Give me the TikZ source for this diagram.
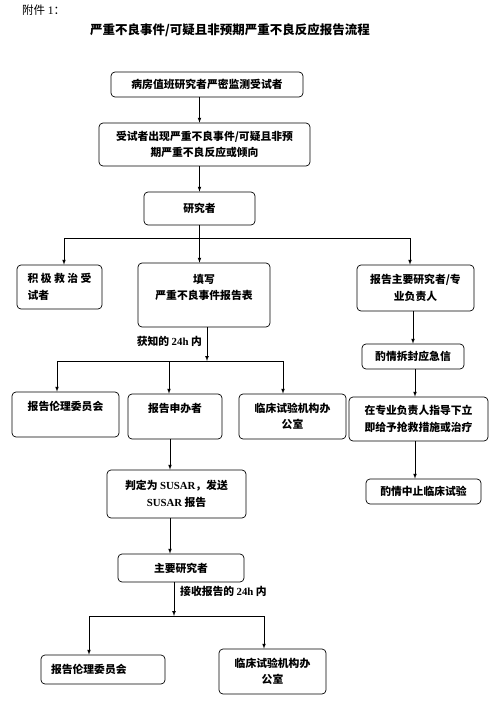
\documentclass[tikz,border=0pt]{standalone}
\usepackage{fontspec}
\setmainfont{Noto Sans CJK SC}
\newfontfamily\lat{Liberation Serif}
\usetikzlibrary{positioning}

\begin{document}
\begin{tikzpicture}[x=1pt,y=-1pt]
        \tikzset{box/.style={draw,rounded corners=4pt,line width=0.7pt,align=center,inner sep=2pt,font=\bfseries\fontsize{10.8}{16.5}\selectfont}}
        \tikzset{vec/.style={draw,line width=0.7pt,-latex}}
        \tikzset{wire/.style={draw,line width=0.7pt}}
        \tikzset{lbl/.style={inner sep=1pt,font=\bfseries\fontsize{10.8}{13}\selectfont}}
        \useasboundingbox (0,0) rectangle (500,702);

        % heading
        \node[anchor=west,inner sep=0pt,font=\fontsize{11.5}{13}\selectfont] (annex) at (22,10) {附件 {\lat 1}：};
        \node[inner sep=0pt,font=\bfseries\fontsize{12.5}{15}\selectfont] (title) at (230,30) {严重不良事件/可疑且非预期严重不良反应报告流程};

        % main column
        \node[box,minimum width=192pt,minimum height=25pt] (watch) at (207,84.5) {病房值班研究者严密监测受试者};
        \node[box,minimum width=211pt,minimum height=43pt] (event) at (204.5,144.5) {受试者出现严重不良事件/可疑且非预\\期严重不良反应或倾向};
        \node[box,minimum width=111pt,minimum height=33pt] (inv) at (199.5,208.5) {研究者};

        \node[box,align=left,minimum width=85pt,minimum height=44pt] (cure) at (59.5,287) {积\hspace{2.5pt}极\hspace{2.5pt}救\hspace{2.5pt}治\hspace{2.5pt}受\\试者};
        \node[box,minimum width=132pt,minimum height=64pt] (form) at (204,295) {填写\\严重不良事件报告表\\~};
        \node[box,minimum width=117pt,minimum height=46pt] (rpi) at (415.5,288) {报告主要研究者/专\\业负责人};

        % right column
        \node[box,minimum width=102pt,minimum height=25pt] (unseal) at (413,356.5) {酌情拆封应急信};
        \node[box,minimum width=139pt,minimum height=44pt] (rescue) at (418.5,419) {在专业负责人指导下立\\即给予抢救措施或治疗};
        \node[box,minimum width=115pt,minimum height=25pt] (stop) at (423.5,491.5) {酌情中止临床试验};

        % 24h reports
        \node[box,minimum width=107pt,minimum height=45pt] (ethic) at (65.5,414.5) {报告伦理委员会\\~};
        \node[box,minimum width=94pt,minimum height=45pt] (spons) at (175,416.5) {报告申办者\\~};
        \node[box,minimum width=107pt,minimum height=45pt] (office) at (292.5,416.5) {临床试验机构办\\公室};
        \node[box,minimum width=139pt,minimum height=48pt] (susar) at (176.5,494) {判定为 {\lat SUSAR}，发送\\{\lat SUSAR} 报告};
        \node[box,minimum width=126pt,minimum height=28pt] (pi) at (181,568) {主要研究者};

        \node[box,align=left,text width=104pt,inner xsep=10pt,minimum height=29pt] (ethic2) at (103,669.5) {报告伦理委员会};
        \node[box,minimum width=107pt,minimum height=45pt] (office2) at (272.5,671.5) {临床试验机构办\\公室};

        \node[lbl,anchor=east] (know) at (203,341) {获知的 {\lat 24h} 内};
        \node[lbl,anchor=west] (recv) at (179,591) {接收报告的 {\lat 24h} 内};

        % branch points
        \coordinate (b1) at (64,238);
        \coordinate (b3) at (410,238);
        \coordinate (c0) at (207,361);
        \coordinate (c1) at (57,361);
        \coordinate (c2) at (169,361);
        \coordinate (c3) at (283,361);
        \coordinate (d0) at (174,616);
        \coordinate (d1) at (89,616);
        \coordinate (d2) at (264,616);

        \draw[vec] (watch.south -| inv) -- (event.north -| inv);
        \draw[vec] (event.south -| inv) -- (inv.north);
        \draw[wire] (inv.south) -- (inv.south |- b1);
        \draw[wire] (b1) -- (b3);
        \draw[vec] (b1) -- (b1 |- cure.north);
        \draw[vec] (inv.south |- b1) -- (inv.south |- form.north);
        \draw[vec] (b3) -- (b3 |- rpi.north);

        \draw[vec] (rpi.south -| unseal) -- (unseal.north);
        \draw[vec] (unseal.south -| 415,0) -- (rescue.north -| 415,0);
        \draw[vec] (rescue.south -| 415,0) -- (stop.north -| 415,0);

        \draw[vec] (form.south -| c0) -- (c0);
        \draw[wire] (c1) -- (c3);
        \draw[vec] (c1) -- (c1 |- ethic.north);
        \draw[vec] (c2) -- (c2 |- spons.north);
        \draw[vec] (c3) -- (c3 |- office.north);

        \draw[vec] (spons.south -| 170,0) -- (susar.north -| 170,0);
        \draw[vec] (susar.south -| 170,0) -- (pi.north -| 170,0);
        \draw[vec] (pi.south -| d0) -- (d0);
        \draw[wire] (d1) -- (d2);
        \draw[vec] (d1) -- (d1 |- ethic2.north);
        \draw[vec] (d2) -- (d2 |- office2.north);
\end{tikzpicture}
\end{document}
